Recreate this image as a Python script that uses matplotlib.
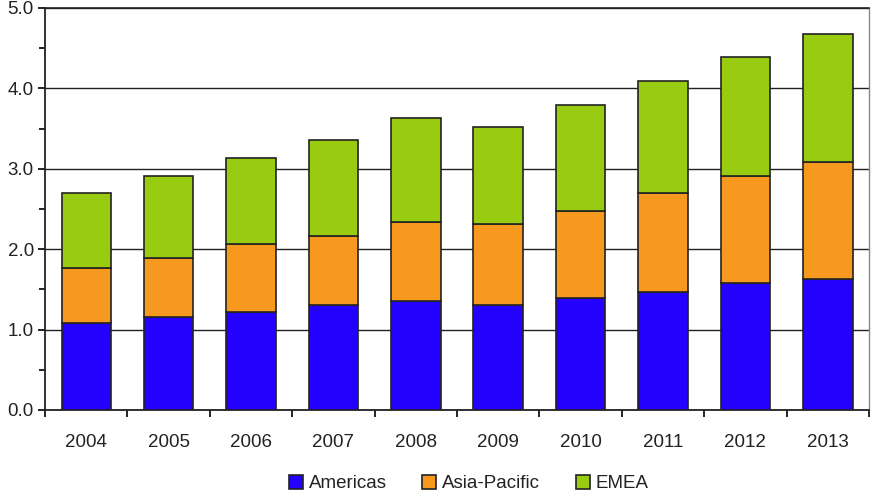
import numpy as np
import matplotlib.pyplot as plt
from matplotlib.ticker import MultipleLocator

years = ['2004', '2005', '2006', '2007', '2008', '2009', '2010', '2011', '2012', '2013']
americas = [1.08, 1.16, 1.22, 1.31, 1.36, 1.31, 1.39, 1.47, 1.58, 1.63]
asia_pacific = [0.69, 0.73, 0.84, 0.85, 0.98, 1.00, 1.09, 1.23, 1.33, 1.45]
emea = [0.93, 1.02, 1.07, 1.20, 1.29, 1.21, 1.31, 1.39, 1.48, 1.60]

plt.rcParams['font.family'] = ['Liberation Sans', 'DejaVu Sans']
plt.rcParams['text.color'] = '#222222'

fig = plt.figure(figsize=(8.76, 4.92), dpi=100)
ax = fig.add_axes([0.0514, 0.1667, 0.9406, 0.8173])

x = np.arange(len(years))
w = 0.6
am = np.array(americas)
ap = np.array(asia_pacific)
em = np.array(emea)
ax.bar(x, am, w, color='#2400FF', edgecolor='#222222', linewidth=1.2, label='Americas', zorder=3)
ax.bar(x, ap, w, bottom=am, color='#F7991E', edgecolor='#222222', linewidth=1.2, label='Asia-Pacific', zorder=3)
ax.bar(x, em, w, bottom=am + ap, color='#99CC11', edgecolor='#222222', linewidth=1.2, label='EMEA', zorder=3)

ax.set_xlim(-0.5, len(years) - 0.5)
ax.set_ylim(0, 5)
ax.yaxis.set_major_locator(MultipleLocator(1))
ax.yaxis.set_minor_locator(MultipleLocator(0.5))
ax.yaxis.set_major_formatter(plt.FormatStrFormatter('%.1f'))
ax.grid(axis='y', which='major', color='#222222', linewidth=1.0, zorder=0)

ax.set_xticks(x)
ax.set_xticklabels(years)
ax.set_xticks(np.arange(-0.5, len(years), 1), minor=True)
ax.tick_params(axis='x', which='major', length=0, pad=17, labelsize=13.5, labelcolor='#222222')
ax.tick_params(axis='x', which='minor', length=5, width=1.2, direction='out')
ax.tick_params(axis='y', which='major', length=5, width=1.2, labelsize=13.5, pad=3, labelcolor='#222222')
ax.tick_params(axis='y', which='minor', length=4, width=1.2)

for s in ['left', 'bottom']:
    ax.spines[s].set_linewidth(1.3)
    ax.spines[s].set_color('#222222')
ax.spines['top'].set_color('#222222')
ax.spines['top'].set_linewidth(1.2)
ax.spines['right'].set_color('#888888')
ax.spines['right'].set_linewidth(1.0)

fig.legend(loc='lower center', bbox_to_anchor=(0.535, -0.035), ncol=3, frameon=False,
           fontsize=13.5, handlelength=0.75, handleheight=0.75, handletextpad=0.3, columnspacing=1.9)

fig.savefig('out.png', dpi=100)
